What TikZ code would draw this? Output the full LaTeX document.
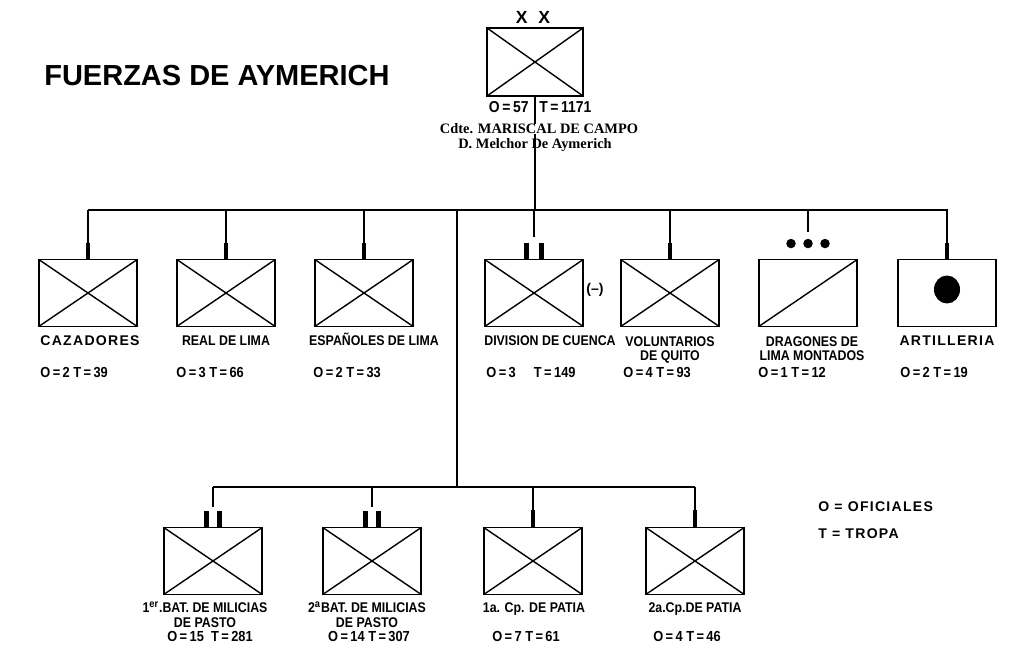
\documentclass[tikz,border=0pt]{standalone}
\usepackage{fontspec}
\setmainfont{Liberation Sans}
\newfontfamily\lblfont[FakeStretch=0.88]{Liberation Sans}
\newfontfamily\widefont[LetterSpace=9]{Liberation Sans}
\newfontfamily\cdtfont{Liberation Serif}

\tikzset{
  unitbox/.style={draw, line width=1.1pt, minimum width=1.97cm, minimum height=1.34cm, inner sep=0pt},
  infantry/.style={unitbox, path picture={
      \draw[line width=0.8pt] (path picture bounding box.north west) -- (path picture bounding box.south east)
        (path picture bounding box.south west) -- (path picture bounding box.north east);}},
  cavalry/.style={unitbox, path picture={
      \draw[line width=0.8pt] (path picture bounding box.south west) -- (path picture bounding box.north east);}},
  artillery/.style={unitbox, path picture={
      \fill ([yshift=0.07cm]path picture bounding box.center) ellipse (0.26cm and 0.28cm);}},
  link/.style={line width=1.1pt},
  stub/.style={line width=2.4pt},
  unitname/.style={font=\lblfont\bfseries\fontsize{8}{8.5}\selectfont, align=center, anchor=base, inner sep=0pt},
  widename/.style={unitname, font=\widefont\bfseries\fontsize{8}{8.5}\selectfont},
  strength/.style={font=\lblfont\bfseries\fontsize{8.3}{9}\selectfont, anchor=base west, inner sep=0pt},
  cdt/.style={font=\cdtfont\bfseries\fontsize{8.2}{9}\selectfont, inner sep=0pt}
}

\begin{document}
\begin{tikzpicture}[x=0.02cm, y=-0.02cm]
  \useasboundingbox (0,0) rectangle (1024,661);

  % title
  \node[font=\bfseries\fontsize{16.5}{18}\selectfont, anchor=base west, inner sep=0pt] (title) at (44,86) {FUERZAS DE AYMERICH};

  % commander
  \node[infantry, minimum width=1.92cm, minimum height=1.36cm] (aym) at (535,62) {};
  \node[font=\bfseries\fontsize{10}{10}\selectfont, inner sep=0pt] (echelon) at (533,17) {X\hspace{0.22cm}X};
  \coordinate (bar1w) at (88,210);
  \coordinate (bar1e) at (948,210);
  \draw[link] (aym.south) -- (aym.south |- bar1w);
  \node[strength, font=\lblfont\bfseries\fontsize{9}{9}\selectfont, anchor=base east] (aymo) at (529,113) {O\,=\,57};
  \node[strength, font=\lblfont\bfseries\fontsize{9}{9}\selectfont] (aymt) at (539,113) {T\,=\,1171};
  \node[cdt, fill=white] (cdte) at (539,129) {Cdte. MARISCAL DE CAMPO};
  \node[cdt] (melchor) at (535,145) {D. Melchor De Aymerich};

  % first echelon
  \draw[link] (bar1w) -- (bar1e);
  \node[infantry] (caz) at (88,293) {};
  \node[infantry] (rdl) at (226,293) {};
  \node[infantry] (edl) at (364,293) {};
  \node[infantry] (cue) at (534,293) {};
  \node[infantry] (vqu) at (670,293) {};
  \node[cavalry] (dra) at (808,293) {};
  \node[artillery] (art) at (947,293) {};
  \node[font=\bfseries\fontsize{8}{8}\selectfont, anchor=west, inner sep=0pt] (minus) at (586,290) {(--)};

  \foreach \u in {caz,rdl,edl,vqu,art} {
    \draw[link] (\u.north |- bar1w) -- (\u.north);
    \draw[stub] (\u.north) -- ++(0,-16);
  }
  \draw[link] (cue.north |- bar1w) -- ++(0,27);
  \draw[stub] ([xshift=-0.15cm]cue.north) -- ++(0,-16);
  \draw[stub] ([xshift=0.15cm]cue.north) -- ++(0,-16);
  \draw[link] (dra.north |- bar1w) -- ++(0,22);
  \foreach \dx in {-17,0,17}
    \fill ([xshift=\dx*0.02cm, yshift=0.3cm]dra.north) circle (0.095cm);

  % names sit on the baseline of their last line
  \node[widename] (cazn) at (90,346) {CAZADORES};
  \node[unitname] (rdln) at (226,346) {REAL DE LIMA};
  \node[unitname] (edln) at (374,346) {ESPAÑOLES DE LIMA};
  \node[unitname] (cuen) at (550,346) {DIVISION DE CUENCA};
  \node[unitname] (vqun) at (670,361) {VOLUNTARIOS\\DE QUITO};
  \node[unitname] (dran) at (812,361) {DRAGONES DE\\LIMA MONTADOS};
  \node[widename] (artn) at (947,346) {ARTILLERIA};

  \node[strength] (cazs) at (40,378) {O\,=\,2 T\,=\,39};
  \node[strength] (rdls) at (176,378) {O\,=\,3 T\,=\,66};
  \node[strength] (edls) at (313,378) {O\,=\,2 T\,=\,33};
  \node[strength] (cues) at (486,378) {O\,=\,3 \quad T\,=\,149};
  \node[strength] (vqus) at (623,378) {O\,=\,4 T\,=\,93};
  \node[strength] (dras) at (758,378) {O\,=\,1 T\,=\,12};
  \node[strength] (arts) at (900,378) {O\,=\,2 T\,=\,19};

  % second echelon
  \coordinate (trunk) at (457,210);
  \coordinate (bar2w) at (213,487);
  \coordinate (bar2e) at (695,487);
  \draw[link] (trunk) -- (trunk |- bar2w);
  \draw[link] (bar2w) -- (bar2e);
  \node[infantry] (bp1) at (213,561) {};
  \node[infantry] (bp2) at (372,561) {};
  \node[infantry] (cp1) at (533,561) {};
  \node[infantry] (cp2) at (695,561) {};

  \foreach \u in {bp1,bp2} {
    \draw[link] (\u.north |- bar2w) -- ++(0,20);
    \draw[stub] ([xshift=-0.13cm]\u.north) -- ++(0,-16);
    \draw[stub] ([xshift=0.13cm]\u.north) -- ++(0,-16);
  }
  \foreach \u in {cp1,cp2} {
    \draw[link] (\u.north |- bar2w) -- (\u.north);
    \draw[stub] (\u.north) -- ++(0,-17);
  }

  \node[unitname] (bp1n) at (205,627) {1\textsuperscript{er}.BAT. DE MILICIAS\\DE PASTO};
  \node[unitname] (bp2n) at (367,627) {2\textsuperscript{a}BAT. DE MILICIAS\\DE PASTO};
  \node[unitname] (cp1n) at (534,613) {1a. Cp. DE PATIA};
  \node[unitname] (cp2n) at (695,613) {2a.Cp.DE PATIA};
  \node[strength, anchor=base] (bp1s) at (210,642) {O\,=\,15 \ T\,=\,281};
  \node[strength, anchor=base] (bp2s) at (369,642) {O\,=\,14 T\,=\,307};
  \node[strength, anchor=base] (cp1s) at (526,642) {O\,=\,7 T\,=\,61};
  \node[strength, anchor=base] (cp2s) at (687,642) {O\,=\,4 T\,=\,46};

  % legend
  \node[widename, anchor=base west] (lego) at (818,512) {O = OFICIALES};
  \node[widename, anchor=base west] (legt) at (818,539) {T = TROPA};
\end{tikzpicture}
\end{document}
